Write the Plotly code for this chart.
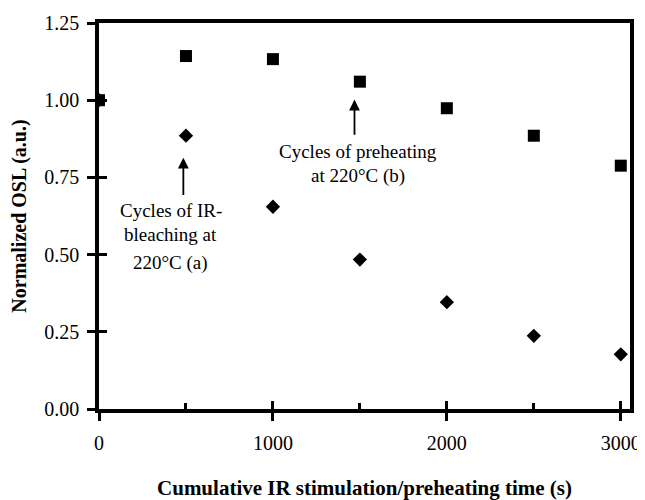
import plotly.graph_objects as go

# Data
time_s = [0, 500, 1000, 1500, 2000, 2500, 3000]
preheat_b = [1.00, 1.143, 1.133, 1.060, 0.974, 0.885, 0.788]
ir_bleach_a = [1.00, 0.885, 0.655, 0.484, 0.346, 0.237, 0.177]

x_ticks = [0, 1000, 2000, 3000]
x_minor_ticks = [500, 1500, 2500]
y_ticks = [0.00, 0.25, 0.50, 0.75, 1.00, 1.25]
y_tick_labels = ["0.00", "0.25", "0.50", "0.75", "1.00", "1.25"]

FONT = "Liberation Serif"
XR = [0, 3053]
YR = [0, 1.25]

fig = go.Figure()
fig.add_trace(go.Scatter(x=time_s, y=preheat_b, mode="markers",
                         marker=dict(symbol="square", size=12, color="black"),
                         name="Cycles of preheating at 220°C (b)"))
fig.add_trace(go.Scatter(x=time_s, y=ir_bleach_a, mode="markers",
                         marker=dict(symbol="diamond", size=11, color="black"),
                         name="Cycles of IR-bleaching at 220°C (a)"))
# invisible trace to anchor overlay axes (used for the inner half of crossing ticks)
fig.add_trace(go.Scatter(x=[time_s[0]], y=[ir_bleach_a[0]], xaxis="x2", yaxis="y2",
                         mode="markers", marker=dict(opacity=0), hoverinfo="skip",
                         showlegend=False))

# the page body adds an 8px offset, so margins are shifted to compensate
fig.update_layout(
    width=645, height=500,
    margin=dict(l=91, r=23, t=15, b=99, autoexpand=False),
    paper_bgcolor="white", plot_bgcolor="white",
    showlegend=False,
    font=dict(family=FONT, color="black", size=16),
    xaxis=dict(range=XR, tickvals=x_ticks, ticks="outside", ticklen=8,
               tickwidth=2.5, tickcolor="black",
               showline=True, mirror=True, linecolor="black", linewidth=3.5,
               showgrid=False, zeroline=False, automargin=False,
               minor=dict(ticks="inside", tickvals=x_minor_ticks, ticklen=6,
                          tickwidth=2.5, tickcolor="black", showgrid=False),
               tickfont=dict(family=FONT, size=20),
               ticklabelstandoff=5,
               title=dict(text="<b>Cumulative IR stimulation/preheating time (s)</b>",
                          font=dict(family=FONT, size=21), standoff=29)),
    yaxis=dict(range=YR, tickvals=y_ticks, ticktext=y_tick_labels, ticks="outside",
               ticklen=8, tickwidth=2.5, tickcolor="black",
               showline=True, mirror=True, linecolor="black", linewidth=3.5,
               showgrid=False, zeroline=False, automargin=False,
               tickfont=dict(family=FONT, size=20),
               ticklabelstandoff=4,
               title=dict(text="<b>Normalized OSL (a.u.)</b>",
                          font=dict(family=FONT, size=20), standoff=14)),
    xaxis2=dict(range=XR, overlaying="x", anchor="y2", side="bottom",
                tickvals=x_ticks, ticks="inside", ticklen=8, tickwidth=2.5,
                tickcolor="black", showticklabels=False, showline=False,
                showgrid=False, zeroline=False),
    yaxis2=dict(range=YR, overlaying="y", anchor="x2", side="left",
                tickvals=y_ticks, ticks="inside", ticklen=8, tickwidth=2.5,
                tickcolor="black", showticklabels=False, showline=False,
                showgrid=False, zeroline=False),
)

ann_font = dict(family=FONT, size=19, color="black")
# arrows
fig.add_annotation(x=485, y=0.814, ax=485, ay=0.688, axref="x", ayref="y",
                   xref="x", yref="y", text="", showarrow=True,
                   arrowhead=2, arrowsize=1.2, arrowwidth=1.8, arrowcolor="black")
fig.add_annotation(x=1469, y=1.002, ax=1469, ay=0.883, axref="x", ayref="y",
                   xref="x", yref="y", text="", showarrow=True,
                   arrowhead=2, arrowsize=1.2, arrowwidth=1.8, arrowcolor="black")
# texts
for txt, yy in [("Cycles of IR-", 0.642), ("bleaching at", 0.564), ("220°C (a)", 0.473)]:
    fig.add_annotation(x=413, y=yy, xref="x", yref="y", text=txt, showarrow=False,
                       font=ann_font, xanchor="center", yanchor="middle")
for txt, yy in [("Cycles of preheating", 0.833), ("at 220°C (b)", 0.753)]:
    fig.add_annotation(x=1490, y=yy, xref="x", yref="y", text=txt, showarrow=False,
                       font=ann_font, xanchor="center", yanchor="middle")

fig.write_html("out.html")
